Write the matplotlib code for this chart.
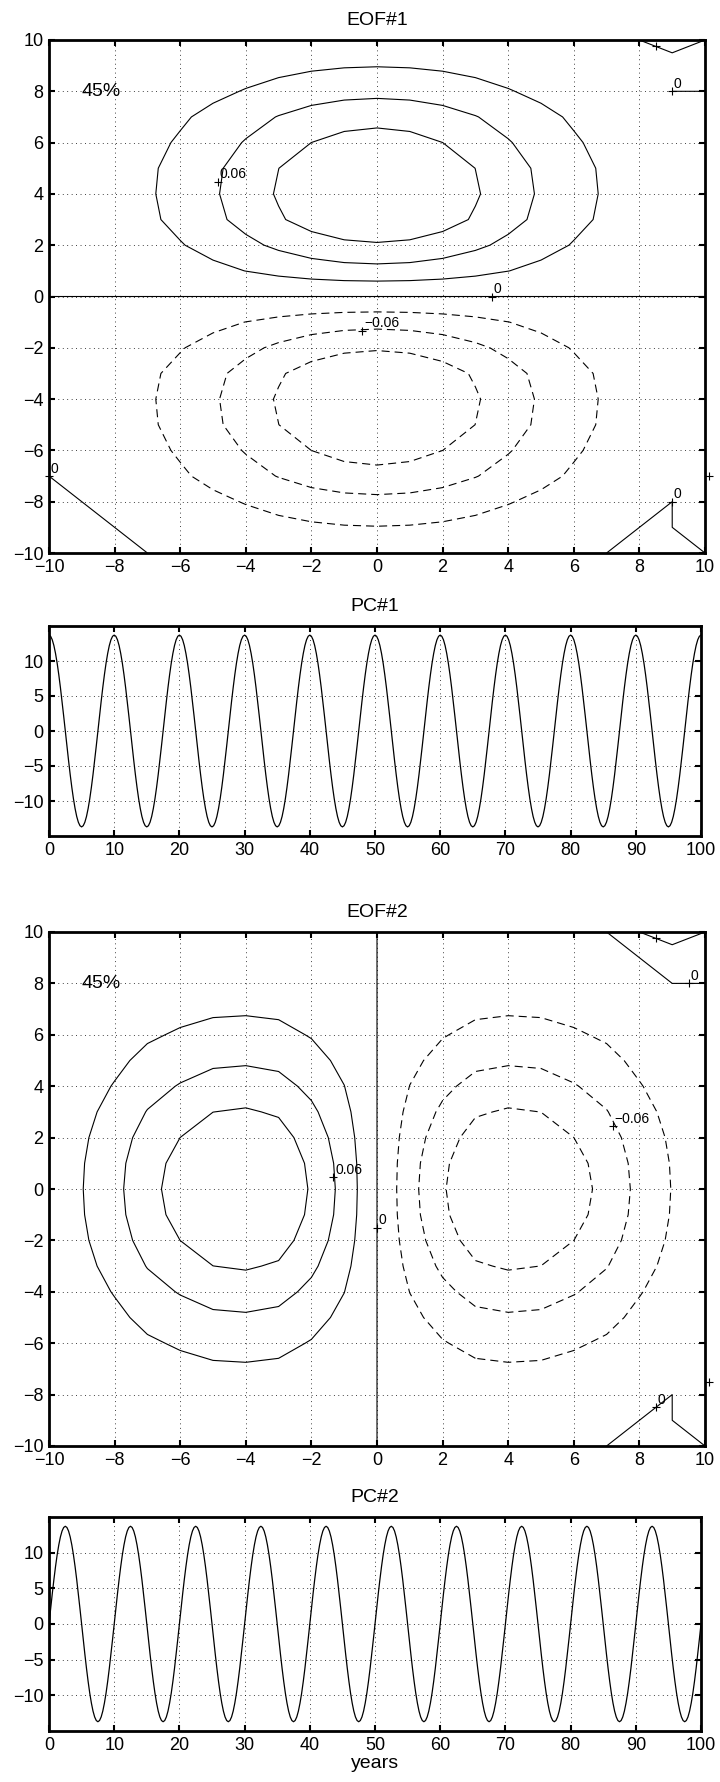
import numpy as np
import matplotlib
matplotlib.use('Agg')
import matplotlib.pyplot as plt

plt.rcParams['font.family'] = ['Liberation Sans', 'DejaVu Sans']
plt.rcParams['lines.scale_dashes'] = False

# --- data -----------------------------------------------------------------
grid_x = np.arange(-10, 11)
grid_y = np.arange(-10, 11)

# profiles: EOF#1 = odd(y) * even(x), EOF#2 = -even(y) * odd(x)
prof_even = [0.044, 0.080, 0.135, 0.216, 0.325, 0.458, 0.607, 0.755, 0.883, 0.969, 1.000,
             0.969, 0.883, 0.755, 0.607, 0.458, 0.325, 0.216, 0.135, 0.080, 0.044]
prof_odd = [-0.015, -0.029, -0.052, -0.081, -0.102, -0.119, -0.123, -0.115, -0.087, -0.050, 0.0,
            0.050, 0.087, 0.115, 0.123, 0.119, 0.102, 0.081, 0.052, 0.029, 0.015]

# near-zero corner values (x, y, value) that give the stray zero contours
eof1_corners = [(8, 10, 0.0), (9, 10, -0.005), (9, 9, 0.005), (10, 10, 0.0), (9, 8, 0.0), (10, 8, 0.0),
                (7, -10, 0.0), (8, -10, 1e-4), (9, -10, 1e-4), (10, -10, 0.0), (8, -9, 0.0),
                (9, -9, 1e-6), (9, -8, 0.0),
                (-10, -7, 0.0), (-9, -8, 0.0), (-8, -9, 0.0), (-7, -10, 0.0), (-10, -8, 1e-4),
                (-10, -9, 1e-4), (-10, -10, 1e-4), (-9, -9, 1e-4), (-9, -10, 1e-4), (-8, -10, 1e-4)]
eof2_corners = [(7, 10, 0.0), (8, 10, 1e-5), (8, 9, -1e-9), (9, 10, -0.0049), (9, 9, 0.005),
                (10, 9, 0.005), (10, 10, 0.0), (9, 8, 0.0), (10, 8, 0.0),
                (7, -10, 0.0), (8, -10, 1e-4), (9, -10, 1e-4), (10, -10, 0.0), (8, -9, 0.0),
                (9, -9, 1e-6), (9, -8, 0.0)]

levels = [-0.09, -0.06, -0.03, 0.0, 0.03, 0.06, 0.09]

# contour labels (x, y, text); text None -> only the '+' mark
eof1_labels = [(-4.84, 4.48, '0.06'), (-0.45, -1.33, '\u22120.06'), (3.5, 0.0, '0'),
               (9.0, 8.0, '0'), (-10.0, -7.0, '0'), (9.0, -8.0, '0'),
               (8.5, 9.75, None), (10.12, -7.0, None)]
eof2_labels = [(-1.33, 0.45, '0.06'), (7.2, 2.45, '\u22120.06'), (0.0, -1.5, '0'),
               (9.5, 8.0, '0'), (8.5, -8.5, '0'),
               (8.5, 9.75, None), (10.12, -7.5, None)]
explained = ['45%', '45%']

# principal components, one 10-year cycle sampled every 0.25 yr
cycle_t = 0.25
pc1_cycle = [13.70, 13.53, 13.03, 12.21, 11.08, 9.69, 8.05, 6.22, 4.23, 2.14,
             0.00, -2.14, -4.23, -6.22, -8.05, -9.69, -11.08, -12.21, -13.03, -13.53,
             -13.70, -13.53, -13.03, -12.21, -11.08, -9.69, -8.05, -6.22, -4.23, -2.14,
             0.00, 2.14, 4.23, 6.22, 8.05, 9.69, 11.08, 12.21, 13.03, 13.53]
pc2_cycle = [0.00, 2.14, 4.23, 6.22, 8.05, 9.69, 11.08, 12.21, 13.03, 13.53,
             13.70, 13.53, 13.03, 12.21, 11.08, 9.69, 8.05, 6.22, 4.23, 2.14,
             0.00, -2.14, -4.23, -6.22, -8.05, -9.69, -11.08, -12.21, -13.03, -13.53,
             -13.70, -13.53, -13.03, -12.21, -11.08, -9.69, -8.05, -6.22, -4.23, -2.14]
n_cycles = 10


def build_field(a, b, corners):
    Z = np.outer(a, b)
    for x, y, v in corners:
        Z[y + 10, x + 10] = v
    return Z


def pc_series(cycle):
    vals = np.concatenate([np.tile(cycle, n_cycles), cycle[:1]])
    t = np.arange(len(vals)) * cycle_t
    return t, vals


def style_axes(ax):
    for s in ax.spines.values():
        s.set_linewidth(2.0)
    ax.tick_params(direction='in', length=4, width=1.5, top=True, right=True,
                   labelsize=13, pad=4)
    ax.grid(True, color='k', linestyle=(0, (0.6, 2.6)), linewidth=0.6)
    ax.set_axisbelow(True)


def draw_eof(ax, Z, labels, title, pct):
    dash = (0, (5.8, 3.6))
    styles = [dash if lv < 0 else 'solid' for lv in levels]
    ax.contour(grid_x, grid_y, Z, levels=levels, colors='k', linewidths=0.8,
               linestyles=styles)
    for x, y, txt in labels:
        ax.plot(x, y, marker='+', color='k', markersize=6, markeredgewidth=0.8,
                clip_on=False)
        if txt is not None:
            ax.annotate(txt, (x, y), xytext=(1.2, 2.5), textcoords='offset points',
                        fontsize=10, ha='left', va='baseline')
    ax.text(-9, 8, pct, fontsize=14, ha='left', va='center')
    ax.set_xlim(-10, 10)
    ax.set_ylim(-10, 10)
    ax.set_xticks(np.arange(-10, 11, 2))
    ax.set_yticks(np.arange(-10, 11, 2))
    ax.set_title(title, fontsize=14, pad=11)
    style_axes(ax)


def draw_pc(ax, cycle, title):
    t, v = pc_series(cycle)
    ax.plot(t, v, color='k', linewidth=0.9)
    ax.set_xlim(0, 100)
    ax.set_ylim(-15, 15)
    ax.set_xticks(np.arange(0, 101, 10))
    ax.set_yticks([-10, -5, 0, 5, 10])
    ax.set_title(title, fontsize=14, pad=11)
    style_axes(ax)


W, H = 720, 1782
fig = plt.figure(figsize=(W / 100, H / 100), dpi=100)


def px_axes(left, top, right, bottom):
    return fig.add_axes([left / W, 1 - bottom / H, (right - left) / W, (bottom - top) / H])


ax1 = px_axes(49, 40, 705, 553)
ax2 = px_axes(49, 626, 701, 836)
ax3 = px_axes(49, 932, 705, 1446)
ax4 = px_axes(49, 1517, 701, 1731)

eof1 = build_field(prof_odd, prof_even, eof1_corners)
eof2 = -build_field(prof_even, prof_odd, [])
for x, y, v in eof2_corners:
    eof2[y + 10, x + 10] = v

draw_eof(ax1, eof1, eof1_labels, 'EOF#1', explained[0])
draw_pc(ax2, pc1_cycle, 'PC#1')
draw_eof(ax3, eof2, eof2_labels, 'EOF#2', explained[1])
draw_pc(ax4, pc2_cycle, 'PC#2')
ax4.set_xlabel('years', fontsize=14, labelpad=1)

fig.savefig('out.png', dpi=100)
